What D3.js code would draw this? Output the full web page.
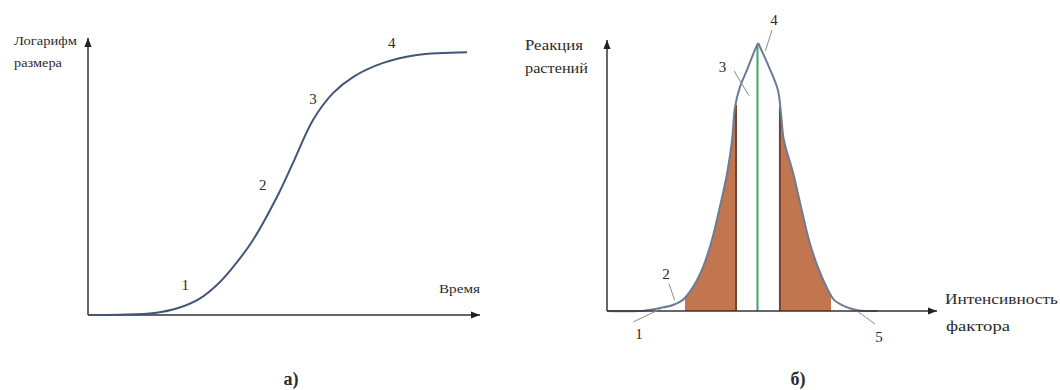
<!DOCTYPE html>
<html>
<head>
<meta charset="utf-8">
<script src="https://cdn.jsdelivr.net/npm/d3@7"></script>
<style>
  body { margin: 0; background: #fff; }
  svg { display: block; }
  .lead { stroke: #8a8a8a; stroke-width: 1; fill: none; }
</style>
</head>
<body>
<svg id="chart" width="1060" height="390"></svg>
<script>
// a) growth curve: time vs log of size
const growthTime = [0, 8, 17, 23, 28.6, 33, 37, 42.1, 48.2, 52.3, 57.4, 62.5, 67.6, 75.3, 83.9, 96.7];
const growthLogSize = [0, 0.1, 0.7, 2.5, 6, 11, 17.3, 27.1, 42.6, 54.9, 70.4, 80.1, 85.9, 91, 93.9, 94.9];
const growthMarks = [
  { n: '1', x: 24.8, y: 9 },
  { n: '2', x: 44.6, y: 45 },
  { n: '3', x: 57.4, y: 76 },
  { n: '4', x: 77.5, y: 96.5 }
];

// б) plant response vs factor intensity (left and right branches meet at optimum)
const riseIntensity = [0, 10, 16.1, 20, 23, 26.1, 29.1, 31.8, 34.2, 36.4, 37.9, 38.8, 40.3, 42.4, 44.8, 45.8];
const riseResponse = [0, 0, 1.1, 2.2, 4.1, 8.9, 16.2, 26.2, 38.4, 50.9, 63.1, 75.3, 82.7, 88.9, 96.3, 98.9];
const fallIntensity = [45.8, 49.1, 51.8, 52.7, 53.6, 56.4, 58.8, 61.2, 63.9, 67, 68.8, 72.4, 75.5, 78.5, 82];
const fallResponse = [98.9, 90, 81.5, 73.1, 63.1, 50.9, 38.4, 26.2, 16.2, 7.7, 4.1, 1.5, 0.4, 0, 0];
const optimum = 45.6;
const pessimumZones = [[23.6, 39.1], [52.4, 67.9]];
const responseMarks = [
  { n: '1', x: 9.7, y: -10.5, lx: [8, 16], ly: [-4, 0.6] },
  { n: '2', x: 17.9, y: 11.8, lx: [18.8, 20.5], ly: [10, 4] },
  { n: '3', x: 35, y: 88.2, lx: [38.5, 43], ly: [88.6, 79.5] },
  { n: '4', x: 50.6, y: 105.5, lx: [50, 48], ly: [103.7, 96] },
  { n: '5', x: 82.4, y: -11.5, lx: [75.8, 81.2], ly: [0, -4.8] }
];

const serif = '"Liberation Serif", "DejaVu Serif", "Noto Serif", "FreeSerif", Tinos, serif';
const svg = d3.select('#chart');

const defs = svg.append('defs');
defs.append('marker')
  .attr('id', 'arrow')
  .attr('viewBox', '0 0 10 10')
  .attr('refX', 10).attr('refY', 5)
  .attr('markerWidth', 9).attr('markerHeight', 9)
  .attr('markerUnits', 'userSpaceOnUse')
  .attr('orient', 'auto')
  .append('path')
  .attr('d', 'M0,1 L10,5 L0,9 Z')
  .attr('fill', '#222');

function drawAxes(g, x, y) {
  const [x0, x1] = x.range();
  const [y0, y1] = y.range();
  g.append('line')
    .attr('x1', x0).attr('y1', y0).attr('x2', x1).attr('y2', y0)
    .attr('stroke', '#333').attr('stroke-width', 1.5)
    .attr('marker-end', 'url(#arrow)');
  g.append('line')
    .attr('x1', x0).attr('y1', y0).attr('x2', x0).attr('y2', y1)
    .attr('stroke', '#333').attr('stroke-width', 1.5)
    .attr('marker-end', 'url(#arrow)');
}

function label(g, x, y, size, txt, len) {
  const t = g.append('text')
    .attr('x', x).attr('y', y)
    .attr('font-family', serif)
    .attr('font-size', size)
    .attr('fill', '#2b2b2b')
    .text(txt);
  if (len) t.attr('textLength', len).attr('lengthAdjust', 'spacingAndGlyphs');
  return t;
}

// ---------- a) ----------
const xL = d3.scaleLinear().domain([0, 100]).range([88, 480]);
const yL = d3.scaleLinear().domain([0, 100]).range([315, 38]);
const gL = svg.append('g');
drawAxes(gL, xL, yL);

const growth = growthTime.map((t, i) => ({ x: t, y: growthLogSize[i] }));
gL.append('path')
  .datum(growth)
  .attr('fill', 'none')
  .attr('stroke', '#44557a')
  .attr('stroke-width', 2)
  .attr('d', d3.line().x(d => xL(d.x)).y(d => yL(d.y)).curve(d3.curveCatmullRom.alpha(0.5)));

gL.selectAll('text.num')
  .data(growthMarks)
  .join('text')
  .attr('class', 'num')
  .attr('x', d => xL(d.x)).attr('y', d => yL(d.y))
  .attr('text-anchor', 'middle')
  .attr('font-family', serif)
  .attr('font-size', 15)
  .attr('fill', '#2b2b2b')
  .text(d => d.n);

label(gL, 14, 45, 13, 'Логарифм', 63);
label(gL, 14, 67, 13, 'размера', 48);
label(gL, 439, 293, 13, 'Время', 41);
label(gL, 291, 385, 18, 'а)').attr('text-anchor', 'middle').attr('font-weight', 'bold');

// ---------- б) ----------
const xR = d3.scaleLinear().domain([0, 100]).range([607, 937]);
const yR = d3.scaleLinear().domain([0, 100]).range([311, 40]);
const gR = svg.append('g');

const rise = riseIntensity.map((v, i) => ({ x: v, y: riseResponse[i] }));
const fall = fallIntensity.map((v, i) => ({ x: v, y: fallResponse[i] }));

const curve = d3.curveCatmullRom.alpha(0.5);
const area = d3.area().x(d => xR(d.x)).y0(yR(0)).y1(d => yR(d.y)).curve(curve);
const line = d3.line().x(d => xR(d.x)).y(d => yR(d.y)).curve(curve);

pessimumZones.forEach((z, i) => {
  defs.append('clipPath').attr('id', 'zone' + i)
    .append('rect')
    .attr('x', xR(z[0])).attr('y', yR(100))
    .attr('width', xR(z[1]) - xR(z[0])).attr('height', yR(0) - yR(100));
  gR.append('path')
    .datum(i === 0 ? rise : fall)
    .attr('clip-path', `url(#zone${i})`)
    .attr('fill', '#c2764f')
    .attr('d', area);
});

// inner borders of the shaded zones
const innerEdges = [
  { x: pessimumZones[0][1], data: rise },
  { x: pessimumZones[1][0], data: fall }
];
innerEdges.forEach(e => {
  const ys = d3.scaleLinear().domain(e.data.map(d => d.x)).range(e.data.map(d => d.y));
  gR.append('line')
    .attr('x1', xR(e.x)).attr('x2', xR(e.x))
    .attr('y1', yR(0)).attr('y2', yR(ys(e.x)) + 2)
    .attr('stroke', '#6f4430').attr('stroke-width', 2);
});

gR.append('line')
  .attr('x1', xR(optimum)).attr('x2', xR(optimum))
  .attr('y1', yR(0)).attr('y2', yR(98))
  .attr('stroke', '#3aa85e').attr('stroke-width', 2);

[rise, fall].forEach(branch => {
  gR.append('path')
    .datum(branch)
    .attr('fill', 'none')
    .attr('stroke', '#6c7b97')
    .attr('stroke-width', 2)
    .attr('d', line);
});

drawAxes(gR, xR, yR);

gR.selectAll('line.lead')
  .data(responseMarks)
  .join('line')
  .attr('class', 'lead')
  .attr('x1', d => xR(d.lx[0])).attr('y1', d => yR(d.ly[0]))
  .attr('x2', d => xR(d.lx[1])).attr('y2', d => yR(d.ly[1]));

gR.selectAll('text.num')
  .data(responseMarks)
  .join('text')
  .attr('class', 'num')
  .attr('x', d => xR(d.x)).attr('y', d => yR(d.y))
  .attr('text-anchor', 'middle')
  .attr('font-family', serif)
  .attr('font-size', 15)
  .attr('fill', '#2b2b2b')
  .text(d => d.n);

label(gR, 525, 50, 15, 'Реакция', 58);
label(gR, 525, 73, 15, 'растений', 63);
label(gR, 945, 304, 15, 'Интенсивность', 113);
label(gR, 946, 331, 15, 'фактора', 64);
label(gR, 798, 385, 18, 'б)').attr('text-anchor', 'middle').attr('font-weight', 'bold');
</script>
</body>
</html>
